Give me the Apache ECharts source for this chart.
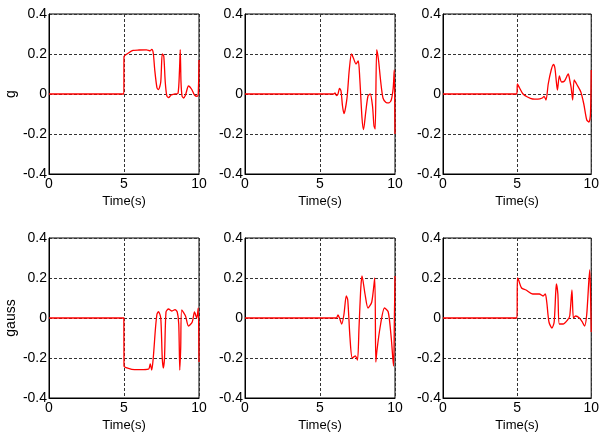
<!DOCTYPE html>
<html>
<head>
<meta charset="utf-8">
<script src="https://cdn.jsdelivr.net/npm/echarts@6/dist/echarts.min.js"></script>
<style>
  html, body { margin: 0; padding: 0; background: #fff; }
  #main { width: 602px; height: 439px; }
</style>
</head>
<body>
<div id="main"></div>
<script>
// tick labels
const xTicks = [0, 5, 10];
const yTicks = [-0.4, -0.2, 0, 0.2, 0.4];
const rowNames = ['g', 'gauss'];

// panel 1 (g, left)
const g1T = [0, 4.99, 5.0, 5.3, 5.6, 6.0, 6.5, 6.75, 6.85, 6.95, 7.05, 7.2, 7.3, 7.45, 7.55, 7.65, 7.75, 7.85, 7.97, 8.15, 8.4, 8.6, 8.7, 8.75, 8.8, 8.87, 8.97, 9.1, 9.3, 9.5, 9.7, 9.88, 9.95, 10];
const g1V = [0, 0, 0.187, 0.205, 0.218, 0.22, 0.221, 0.216, 0.223, 0.205, 0.12, 0.03, 0.022, 0.06, 0.2, 0.19, 0.06, -0.008, -0.018, -0.005, 0.0, 0.003, 0.12, 0.222, 0.06, -0.01, -0.02, -0.005, 0.04, 0.025, -0.005, -0.012, 0.0, 0.17];
// panel 2 (g, middle)
const g2T = [0, 5.9, 6.0, 6.1, 6.2, 6.3, 6.4, 6.5, 6.6, 6.8, 6.95, 7.1, 7.25, 7.4, 7.55, 7.65, 7.8, 7.9, 8.05, 8.2, 8.35, 8.5, 8.6, 8.68, 8.78, 8.9, 9.05, 9.2, 9.4, 9.6, 9.75, 9.88, 9.95, 10];
const g2V = [0, 0, 0.005, -0.008, 0.0, 0.028, 0.015, -0.06, -0.098, -0.02, 0.12, 0.2, 0.175, 0.15, 0.165, 0.08, -0.12, -0.178, -0.09, -0.01, 0.0, -0.06, -0.16, -0.175, 0.222, 0.17, 0.06, -0.02, -0.042, -0.044, -0.03, 0.03, 0.12, -0.2];
// panel 3 (g, right)
const g3T = [0, 4.98, 5.02, 5.17, 5.4, 5.7, 6.05, 6.4, 6.7, 6.82, 6.95, 7.1, 7.3, 7.45, 7.55, 7.65, 7.72, 7.85, 8.0, 8.2, 8.45, 8.55, 8.65, 8.75, 8.85, 9.05, 9.3, 9.5, 9.7, 9.85, 9.95, 10];
const g3V = [0, 0, 0.05, 0.03, 0.0, -0.015, -0.025, -0.026, -0.02, -0.012, -0.03, 0.05, 0.12, 0.148, 0.13, 0.06, 0.02, 0.09, 0.06, 0.065, 0.1, 0.07, 0.03, -0.03, 0.07, 0.045, 0.01, -0.05, -0.13, -0.14, -0.1, 0.12];
// panel 4 (gauss, left)
const s1T = [0, 4.99, 5.0, 5.3, 5.7, 6.3, 6.65, 6.75, 6.85, 6.95, 7.1, 7.2, 7.3, 7.45, 7.55, 7.62, 7.7, 7.8, 7.97, 8.2, 8.4, 8.55, 8.65, 8.72, 8.78, 8.85, 9.1, 9.3, 9.55, 9.7, 9.85, 9.95, 10];
const s1V = [0, 0, -0.24, -0.252, -0.258, -0.258, -0.255, -0.23, -0.26, -0.2, -0.05, 0.02, 0.032, 0.0, -0.2, -0.25, -0.2, 0.03, 0.045, 0.035, 0.042, 0.03, -0.03, -0.26, -0.15, 0.04, 0.01, -0.04, -0.02, 0.03, 0.0, 0.05, -0.22];
// panel 5 (gauss, middle)
const s2T = [0, 6.0, 6.1, 6.2, 6.3, 6.45, 6.6, 6.75, 6.85, 7.0, 7.15, 7.35, 7.5, 7.6, 7.72, 7.8, 8.0, 8.2, 8.45, 8.65, 8.72, 8.8, 9.0, 9.3, 9.55, 9.75, 9.9, 9.96, 10];
const s2V = [0, 0, 0.0, 0.015, 0.0, -0.03, 0.02, 0.11, 0.09, -0.1, -0.2, -0.19, -0.21, -0.05, 0.15, 0.21, 0.12, 0.05, 0.08, 0.2, -0.22, -0.16, -0.05, 0.05, 0.03, -0.1, -0.24, 0.0, 0.21];
// panel 6 (gauss, right)
const s3T = [0, 4.99, 5.02, 5.1, 5.3, 5.6, 6.05, 6.5, 6.75, 6.9, 7.0, 7.15, 7.35, 7.5, 7.6, 7.65, 7.75, 7.85, 8.1, 8.4, 8.55, 8.7, 8.8, 8.95, 9.2, 9.4, 9.55, 9.7, 9.9, 9.96, 10];
const s3V = [0, 0, 0.2, 0.19, 0.15, 0.14, 0.12, 0.12, 0.11, 0.12, 0.08, -0.02, -0.05, -0.02, 0.12, 0.17, 0.12, -0.03, -0.03, -0.01, 0.01, 0.14, 0.0, 0.01, 0.0, -0.02, -0.04, 0.02, 0.24, 0.1, -0.07];

const panels = [[g1T, g1V], [g2T, g2V], [g3T, g3V], [s1T, s1V], [s2T, s2V], [s3T, s3V]];

const lefts = [49, 245, 443];
const tops = [14, 238];
const font = '"Liberation Sans Narrow", "Liberation Sans", Arial, sans-serif';
const font2 = '"Liberation Sans", Arial, sans-serif';

const grid = [], xAxis = [], yAxis = [], series = [];
panels.forEach((p, i) => {
  const row = Math.floor(i / 3), col = i % 3;
  grid.push({
    left: lefts[col], top: tops[row], width: 150, height: 160,
    show: true, borderColor: '#000', borderWidth: 1, backgroundColor: 'transparent'
  });
  xAxis.push({
    type: 'value', gridIndex: i, min: xTicks[0], max: xTicks[2], interval: 5,
    name: 'Time(s)', nameLocation: 'middle', nameGap: 21,
    nameTextStyle: { color: '#000', fontSize: 13, fontFamily: font },
    axisLine: { onZero: false, lineStyle: { color: '#000', width: 1 } },
    axisTick: { show: false },
    axisLabel: { color: '#000', fontSize: 14, fontFamily: font2, margin: 3 },
    splitLine: { show: true, lineStyle: { color: '#333', type: [3, 2], width: 1 } }
  });
  yAxis.push({
    type: 'value', gridIndex: i, min: yTicks[0], max: yTicks[4], interval: 0.2,
    name: col === 0 ? rowNames[row] : '', nameLocation: 'middle', nameGap: 31,
    nameTextStyle: { color: '#000', fontSize: 14, fontFamily: font2 },
    axisLine: { onZero: false, lineStyle: { color: '#000', width: 1 } },
    axisTick: { show: false },
    axisLabel: { color: '#000', fontSize: 14, fontFamily: font2, margin: 2,
      formatter: v => String(Math.round(v * 10) / 10) },
    splitLine: { show: true, lineStyle: { color: '#333', type: [3, 2], width: 1 } }
  });
  series.push({
    type: 'line', xAxisIndex: i, yAxisIndex: i,
    data: p[0].map((t, k) => [t, p[1][k]]),
    smooth: 0.25, showSymbol: false, animation: false,
    lineStyle: { color: '#ff0000', width: 1.3 }
  });
});

const myChart = echarts.init(document.getElementById('main'));
myChart.setOption({ animation: false, grid, xAxis, yAxis, series });
</script>
</body>
</html>
